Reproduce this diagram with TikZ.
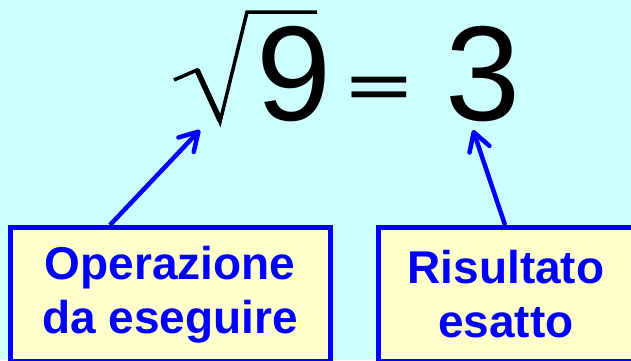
\documentclass[tikz,border=0pt]{standalone}
\usepackage{fontspec}
\setmainfont{Liberation Sans}
\usetikzlibrary{arrows.meta}
\definecolor{sfondo}{RGB}{204,255,255}
\definecolor{giallino}{RGB}{255,255,204}
\definecolor{blu}{RGB}{0,0,255}
\begin{document}
\begin{tikzpicture}[x=1pt, y=1pt, >={Straight Barb[length=18pt,width=21pt,round]},
  riquadro/.style={draw=blu, line width=5pt, fill=giallino, text=blu,
    font=\fontsize{46}{54}\selectfont\bfseries, align=center,
    minimum height=134pt, anchor=north, inner sep=0pt},
  freccia/.style={->, draw=blu, line width=4.5pt},
  cifra/.style={font=\fontsize{135}{135}\selectfont, inner sep=0pt, anchor=base west}]
  % sfondo
  \fill[sfondo] (0,0) rectangle (631,360);
  \useasboundingbox (0,0) rectangle (631,360);
  % radice di 9 = 3
  \draw[line width=3.5pt, line join=miter] (174,280) -- (197,290) -- (220,238) -- (247,348) -- (317,348);
  \draw[line width=5.5pt] (197,290) -- (220,240);
  \node[cifra] (nove) at (256,240) {9};
  \node[cifra, font=\fontsize{109}{109}\selectfont\bfseries] (uguale) at (347,255) {\scalebox{1}[0.5]{=}};
  \node[cifra] (tre) at (445,240) {3};
  % riquadri
  \node[riquadro, minimum width=320pt] (operazione) at (170,135) {Operazione\\da eseguire};
  \node[riquadro, minimum width=255pt] (risultato) at (506,135) {Risultato\\esatto};
  % frecce
  \coordinate (puntaradice) at (200,230);
  \coordinate (puntatre) at (473,230);
  \draw[freccia] ([xshift=-60pt]operazione.north) -- (puntaradice);
  \draw[freccia] ([xshift=-1pt]risultato.north) -- (puntatre);
\end{tikzpicture}
\end{document}
